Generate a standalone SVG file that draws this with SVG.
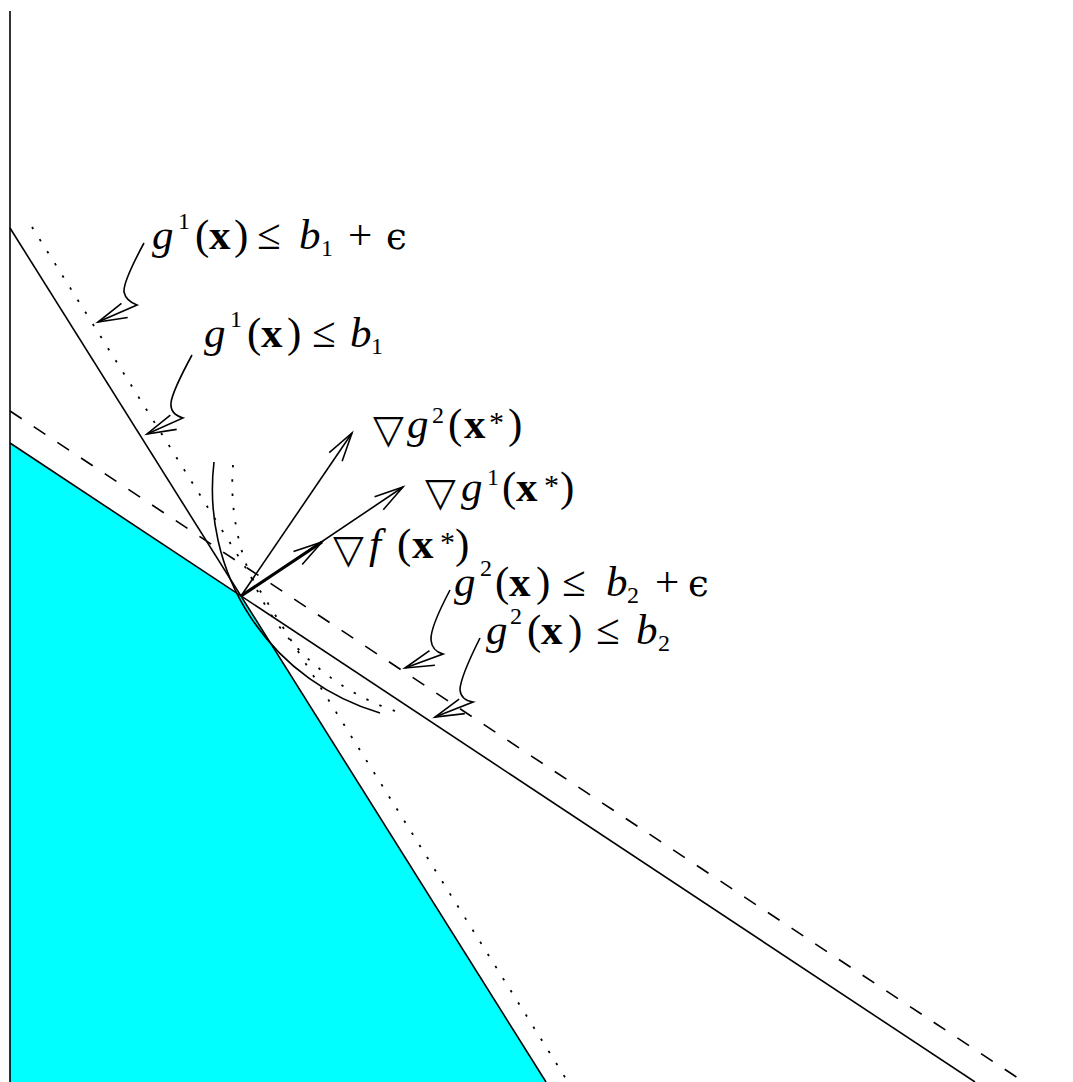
<svg xmlns="http://www.w3.org/2000/svg" width="1073" height="1082" viewBox="0 0 1073 1082">
<defs>
<style>
.ln{fill:none;stroke:#000;stroke-width:1.6}
.dot{fill:none;stroke:#000;stroke-width:1.8;stroke-dasharray:2.4 11.9}
.dash{fill:none;stroke:#000;stroke-width:1.6;stroke-dasharray:14 14.4}
.vec{fill:none;stroke:#000;stroke-width:1.6;marker-end:url(#ah)}
.vecb{fill:none;stroke:#000;stroke-width:3.2;marker-end:url(#ah)}
.lead{fill:none;stroke:#000;stroke-width:1.6;stroke-linejoin:miter;marker-end:url(#ah)}
.t{font-family:"Liberation Serif","DejaVu Serif",serif;font-size:43px;fill:#000}
.it{font-style:italic}
.bf{font-weight:bold}
.sc{font-size:24px}
.st{font-size:30px}
.sym{font-family:"DejaVu Sans",sans-serif;font-size:40px}
.eps{font-family:"DejaVu Serif","Liberation Serif",serif;font-style:normal;font-size:37px}
</style>
<marker id="ah" markerUnits="userSpaceOnUse" markerWidth="40" markerHeight="40" refX="0" refY="0" orient="auto" overflow="visible">
<path d="M-29,-7.8 L0,0 L-29,7.8" fill="none" stroke="#000" stroke-width="1.6"/>
</marker>
</defs>
<rect width="1073" height="1082" fill="#fff"/>
<g id="feasible-region">
<polygon points="10,443 241,596 546,1082 10,1082" fill="#00ffff"/>
</g>
<g id="connectors">
<path id="axis" class="ln" d="M10,11 V1082"/>
<path id="g1-line" class="ln" d="M10,228 L546,1082"/>
<path id="g2-line" class="ln" d="M10,443 L975,1082"/>
<path id="g1-eps-line" class="dot" d="M32,227 L568,1082"/>
<path id="g2-eps-line" class="dash" d="M10,411 L1024,1082"/>
<path id="f-level" class="ln" d="M214,462 A233,233 0 0 0 380,713"/>
<path id="f-level-eps" class="dot" d="M233,465 A240,240 0 0 0 395,711"/>
<path id="grad-g2" class="vec" d="M241,596 L352,433"/>
<path id="grad-g1" class="vec" d="M241,596 L403,487"/>
<path id="grad-f" class="vecb" d="M241,596 L322,542"/>
<path id="lead1" class="lead" d="M144,243 Q123,282 124,292 Q126,301 137,305 L98,322"/>
<path id="lead2" class="lead" d="M192,355 Q172,392 171,403 Q170,414 183,418 L147,434"/>
<path id="lead3" class="lead" d="M450,590 Q430,628 431,640 Q432,651 443,654 L405,668"/>
<path id="lead4" class="lead" d="M480,638 Q460,678 460,690 Q461,700 473,702 L435,717"/>
</g>
<g id="label-g1-eps">
<text class="t"><tspan class="it" x="152" y="249">g</tspan><tspan class="sc" x="178" y="229">1</tspan><tspan x="195" y="249">(</tspan><tspan class="bf" x="209" y="249">x</tspan><tspan x="234" y="249">)</tspan><tspan x="257" y="249">≤</tspan><tspan class="it" x="299" y="249">b</tspan><tspan class="sc" x="321" y="256">1</tspan><tspan x="348" y="249">+</tspan><tspan class="eps" x="386" y="249">ϵ</tspan></text>
</g>
<g id="label-g1">
<text class="t"><tspan class="it" x="204" y="347">g</tspan><tspan class="sc" x="230" y="327">1</tspan><tspan x="247" y="347">(</tspan><tspan class="bf" x="261" y="347">x</tspan><tspan x="287" y="347">)</tspan><tspan x="312" y="347">≤</tspan><tspan class="it" x="350" y="347">b</tspan><tspan class="sc" x="371" y="354">1</tspan></text>
</g>
<g id="label-grad-g2">
<text class="t"><tspan class="sym" x="373" y="443">▽</tspan><tspan class="it" x="407" y="438">g</tspan><tspan class="sc" x="432" y="423">2</tspan><tspan x="448" y="438">(</tspan><tspan class="bf" x="464" y="438">x</tspan><tspan class="st" x="489" y="432">*</tspan><tspan x="508" y="438">)</tspan></text>
</g>
<g id="label-grad-g1">
<text class="t"><tspan class="sym" x="425" y="506">▽</tspan><tspan class="it" x="461" y="501">g</tspan><tspan class="sc" x="487" y="485">1</tspan><tspan x="502" y="501">(</tspan><tspan class="bf" x="516" y="501">x</tspan><tspan class="st" x="544" y="495">*</tspan><tspan x="560" y="501">)</tspan></text>
</g>
<g id="label-grad-f">
<text class="t"><tspan class="sym" x="333" y="563">▽</tspan><tspan class="it" x="369" y="558">f</tspan><tspan x="397" y="558">(</tspan><tspan class="bf" x="412" y="558">x</tspan><tspan class="st" x="440" y="552">*</tspan><tspan x="455" y="558">)</tspan></text>
</g>
<g id="label-g2-eps">
<text class="t"><tspan class="it" x="454" y="596">g</tspan><tspan class="sc" x="480" y="576">2</tspan><tspan x="495" y="596">(</tspan><tspan class="bf" x="509" y="596">x</tspan><tspan x="536" y="596">)</tspan><tspan x="562" y="596">≤</tspan><tspan class="it" x="606" y="596">b</tspan><tspan class="sc" x="627" y="603">2</tspan><tspan x="655" y="596">+</tspan><tspan class="eps" x="688" y="596">ϵ</tspan></text>
</g>
<g id="label-g2">
<text class="t"><tspan class="it" x="486" y="644">g</tspan><tspan class="sc" x="510" y="624">2</tspan><tspan x="527" y="644">(</tspan><tspan class="bf" x="541" y="644">x</tspan><tspan x="568" y="644">)</tspan><tspan x="596" y="644">≤</tspan><tspan class="it" x="636" y="644">b</tspan><tspan class="sc" x="658" y="651">2</tspan></text>
</g>
</svg>
